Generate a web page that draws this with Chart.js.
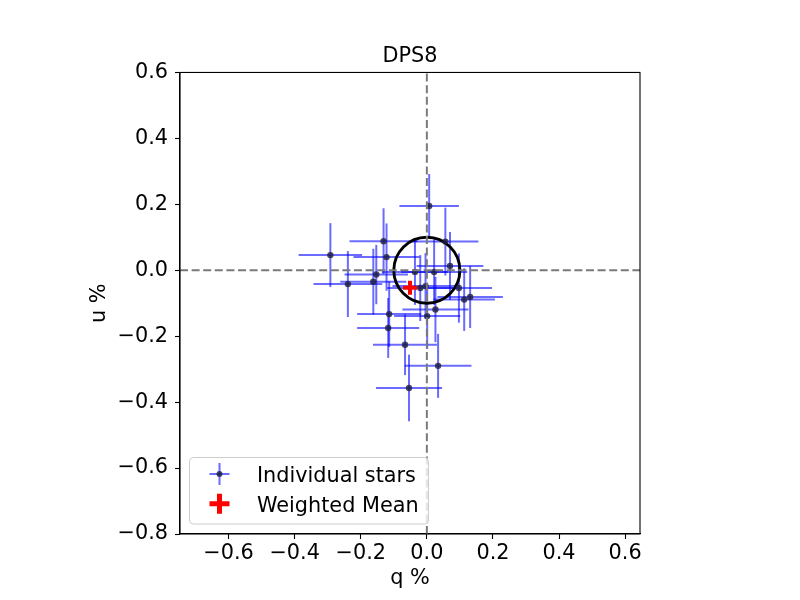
<!DOCTYPE html>
<html>
<head>
<meta charset="utf-8">
<title>DPS8</title>
<script src="https://cdn.jsdelivr.net/npm/chart.js@4.4.0/dist/chart.umd.min.js"></script>
<style>
  html, body { margin: 0; padding: 0; background: #fff; }
  #chart { display: block; }
</style>
</head>
<body>
<canvas id="chart" width="800" height="600"></canvas>
<script>
// Stokes q, u (%) for the individual stars, with their 1-sigma errors
const starQ = [-0.292, -0.239, -0.131, -0.122, -0.153, -0.162, 0.007, -0.036, 0.022, 0.070, 0.056, -0.020,
               -0.004, 0.097, 0.113, 0.131, -0.114, 0.001, 0.026, -0.117, -0.066, 0.034, -0.054];
const starU = [0.046, -0.042, 0.088, 0.040, -0.013, -0.035, 0.195, -0.005, -0.005, 0.013, 0.087, -0.054,
               -0.048, -0.054, -0.089, -0.081, -0.133, -0.139, -0.119, -0.175, -0.226, -0.290, -0.357];
const qErr = [0.096, 0.104, 0.103, 0.100, 0.096, 0.100, 0.090, 0.100, 0.100, 0.101, 0.100, 0.100,
              0.100, 0.100, 0.093, 0.099, 0.097, 0.100, 0.100, 0.094, 0.097, 0.101, 0.100];
const uErr = [0.097, 0.100, 0.100, 0.102, 0.090, 0.100, 0.097, 0.100, 0.100, 0.103, 0.103, 0.100,
              0.100, 0.105, 0.095, 0.094, 0.100, 0.100, 0.099, 0.091, 0.092, 0.097, 0.101];

const meanQ = [-0.051];
const meanU = [-0.053];

const circleCenter = [0, 0];
const circleRadius = 0.1;

const xLimits = [-0.747, 0.645];
const yLimits = [-0.8, 0.6];
const xTicks = [-0.6, -0.4, -0.2, 0.0, 0.2, 0.4, 0.6];
const yTicks = [-0.8, -0.6, -0.4, -0.2, 0.0, 0.2, 0.4, 0.6];

const legendLabels = ['Individual stars', 'Weighted Mean'];

const FONT = "'DejaVu Sans', sans-serif";
const FS = 20.8;
const barColor = 'rgba(0, 0, 255, 0.58)';
const dotColor = 'rgba(30, 30, 60, 0.8)';

const fmt = v => {
  const s = Math.abs(v).toFixed(1);
  return v < -1e-9 ? '\u2212' + s : s;
};

const overlay = {
  id: 'overlay',
  beforeDatasetsDraw(chart) {
    const { ctx, scales: { x, y } } = chart;
    ctx.save();
    // error bars
    ctx.strokeStyle = barColor;
    ctx.lineWidth = 2;
    starQ.forEach((q, i) => {
      const u = starU[i];
      const px = x.getPixelForValue(q);
      const py = y.getPixelForValue(u);
      ctx.beginPath();
      ctx.moveTo(x.getPixelForValue(q - qErr[i]), py);
      ctx.lineTo(x.getPixelForValue(q + qErr[i]), py);
      ctx.stroke();
      ctx.beginPath();
      ctx.moveTo(px, y.getPixelForValue(u - uErr[i]));
      ctx.lineTo(px, y.getPixelForValue(u + uErr[i]));
      ctx.stroke();
    });
    // circle of radius 0.1 %
    const cx = x.getPixelForValue(circleCenter[0]);
    const cy = y.getPixelForValue(circleCenter[1]);
    const rx = Math.abs(x.getPixelForValue(circleCenter[0] + circleRadius) - cx);
    const ry = Math.abs(y.getPixelForValue(circleCenter[1] + circleRadius) - cy);
    ctx.beginPath();
    ctx.ellipse(cx, cy, rx, ry, 0, 0, Math.PI * 2);
    ctx.strokeStyle = '#000';
    ctx.lineWidth = 2.9;
    ctx.stroke();
    ctx.restore();
  },
  afterDraw(chart) {
    const { ctx, chartArea: a } = chart;
    ctx.save();
    // frame
    ctx.strokeStyle = '#000';
    ctx.lineWidth = 1.1;
    ctx.strokeRect(a.left, a.top, a.right - a.left, a.bottom - a.top);

    // legend
    const bx = a.left + 9.5, by = a.bottom - 76.5, bw = 239, bh = 66.5;
    ctx.beginPath();
    ctx.roundRect(bx, by, bw, bh, 4);
    ctx.fillStyle = 'rgba(255,255,255,0.8)';
    ctx.fill();
    ctx.strokeStyle = '#cccccc';
    ctx.lineWidth = 1;
    ctx.stroke();

    const mx = bx + 30;
    const row1 = by + 16.5, row2 = by + 46.3;
    // errorbar marker
    ctx.strokeStyle = barColor;
    ctx.lineWidth = 2;
    ctx.beginPath();
    ctx.moveTo(mx - 10, row1); ctx.lineTo(mx + 10, row1); ctx.stroke();
    ctx.beginPath();
    ctx.moveTo(mx, row1 - 11); ctx.lineTo(mx, row1 + 11); ctx.stroke();
    ctx.fillStyle = dotColor;
    ctx.beginPath();
    ctx.arc(mx, row1, 3, 0, Math.PI * 2);
    ctx.fill();
    // red plus
    ctx.strokeStyle = '#ff0000';
    ctx.lineWidth = 5;
    ctx.beginPath();
    ctx.moveTo(mx - 10, row2); ctx.lineTo(mx + 10, row2);
    ctx.moveTo(mx, row2 - 10); ctx.lineTo(mx, row2 + 10);
    ctx.stroke();

    ctx.fillStyle = '#000';
    ctx.font = FS + 'px ' + FONT;
    ctx.textBaseline = 'alphabetic';
    ctx.textAlign = 'left';
    ctx.fillText(legendLabels[0], bx + 67.4, by + 24);
    ctx.fillText(legendLabels[1], bx + 67.4, by + 54);
    ctx.restore();
  }
};

const ctx = document.getElementById('chart').getContext('2d');
new Chart(ctx, {
  type: 'scatter',
  data: {
    datasets: [
      {
        label: legendLabels[1],
        data: meanQ.map((q, i) => ({ x: q, y: meanU[i] })),
        pointStyle: 'cross',
        pointRadius: 7,
        borderWidth: 4,
        borderColor: '#ff0000',
        backgroundColor: '#ff0000'
      },
      {
        label: 'u = 0',
        data: [{ x: xLimits[0], y: 0 }, { x: xLimits[1], y: 0 }],
        showLine: true,
        pointRadius: 0,
        borderColor: '#7a7a7a',
        borderWidth: 2,
        borderDash: [8, 3.6]
      },
      {
        label: 'q = 0',
        data: [{ x: 0, y: yLimits[0] }, { x: 0, y: yLimits[1] }],
        showLine: true,
        pointRadius: 0,
        borderColor: '#7a7a7a',
        borderWidth: 2,
        borderDash: [8, 3.6]
      },
      {
        label: legendLabels[0],
        data: starQ.map((q, i) => ({ x: q, y: starU[i] })),
        pointRadius: 3.2,
        pointBorderWidth: 0,
        backgroundColor: dotColor,
        borderColor: dotColor
      }
    ]
  },
  options: {
    responsive: false,
    animation: false,
    layout: { padding: { top: 44.5, left: 0, right: 160, bottom: 0 } },
    scales: {
      x: {
        type: 'linear',
        min: xLimits[0],
        max: xLimits[1],
        afterBuildTicks: s => { s.ticks = xTicks.map(v => ({ value: v })); },
        afterFit: s => { s.height = 66; },
        grid: { drawOnChartArea: false, drawTicks: true, tickLength: 5, color: '#000', tickWidth: 1.1 },
        border: { display: true, color: '#000', width: 1.1 },
        ticks: {
          color: '#000',
          padding: 2,
          maxRotation: 0,
          font: { family: FONT, size: FS },
          callback: v => fmt(v)
        },
        title: {
          display: true,
          text: 'q %',
          color: '#000',
          font: { family: FONT, size: FS },
          padding: { top: 0, bottom: 8.5 }
        }
      },
      y: {
        type: 'linear',
        min: yLimits[0],
        max: yLimits[1],
        afterBuildTicks: s => { s.ticks = yTicks.map(v => ({ value: v })); },
        afterFit: s => { s.width = 180; },
        grid: { drawOnChartArea: false, drawTicks: true, tickLength: 5, color: '#000', tickWidth: 1.1 },
        border: { display: true, color: '#000', width: 1.1 },
        ticks: {
          color: '#000',
          padding: 7,
          font: { family: FONT, size: FS },
          callback: v => fmt(v)
        },
        title: {
          display: true,
          text: 'u %',
          color: '#000',
          font: { family: FONT, size: FS },
          padding: { top: 87.5, bottom: 0 }
        }
      }
    },
    plugins: {
      title: {
        display: true,
        text: 'DPS8',
        fullSize: false,
        color: '#000',
        font: { family: FONT, size: FS, weight: 'normal' },
        padding: { top: 0, bottom: 3 }
      },
      legend: { display: false },
      tooltip: { enabled: false }
    }
  },
  plugins: [overlay]
});
</script>
</body>
</html>
